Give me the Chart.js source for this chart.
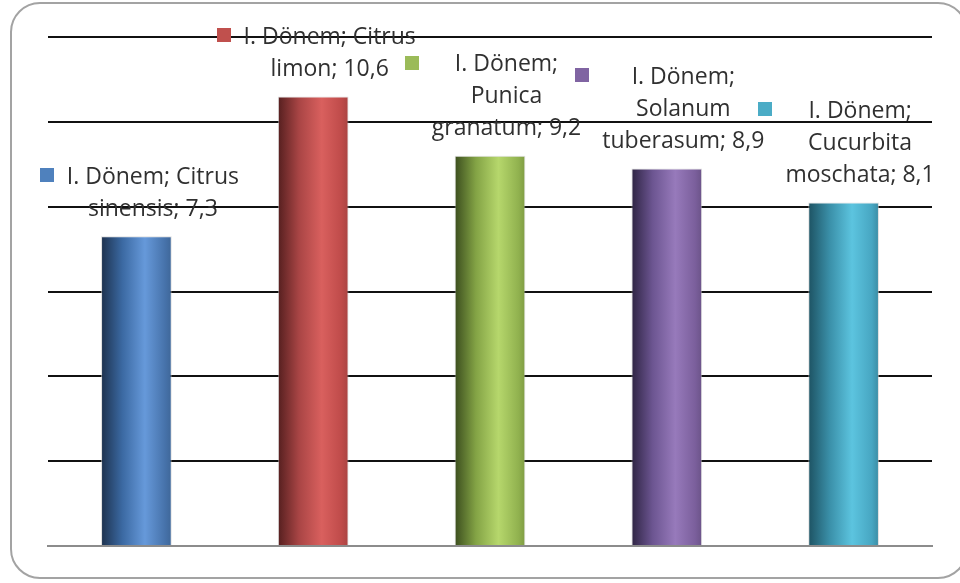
<!DOCTYPE html>
<html>
<head>
<meta charset="utf-8">
<script src="https://cdn.jsdelivr.net/npm/chart.js@4/dist/chart.umd.min.js"></script>
<style>
  html, body { margin: 0; padding: 0; background: #fff; overflow: hidden; }
  #wrap { position: relative; width: 960px; height: 583px; overflow: hidden; }
  #frame {
    position: absolute; left: 10px; top: 2px; width: 958px; height: 577px;
    border: 2px solid #a3a3a3; border-radius: 30px; box-sizing: border-box;
  }
  canvas { position: absolute; left: 0; top: 0; }
</style>
</head>
<body>
<div id="wrap">
  <div id="frame"></div>
  <canvas id="c" width="960" height="583"></canvas>
</div>
<script>
// Series and categories
const seriesName = 'I. Dönem';
const categories = ['Citrus sinensis', 'Citrus limon', 'Punica granatum', 'Solanum tuberasum', 'Cucurbita moschata'];
const values = [7.3, 10.6, 9.2, 8.9, 8.1];
// how many words of the category share the first label line with the series name
const firstLineWords = [1, 1, 0, 0, 0];
const yTicks = [0, 2, 4, 6, 8, 10, 12];

// cylinder-like shading per bar: dark edge, body, highlight, right edge
const barShades = [
  ['#1d314d', '#3b69a2', '#6699da', '#4773ab', '#3e6698'],
  ['#551f1f', '#a94545', '#d9605e', '#bf4b4a', '#a94342'],
  ['#3b4d1e', '#83a345', '#b6d76c', '#91b24f', '#7f9c43'],
  ['#2e2443', '#6c5591', '#977abb', '#7b5f9c', '#6b5388'],
  ['#1d5262', '#3a8fa8', '#5cc4df', '#47a6c2', '#3a8ba3']
];
const markerColors = ['#4f81bd', '#c0504d', '#9bbb59', '#8064a2', '#4bacc6'];

const fmt = v => String(v).replace('.', ',');

function labelLines(i) {
  const words = categories[i].split(' ');
  const n = firstLineWords[i];
  const first = seriesName + ';' + (n ? ' ' + words.slice(0, n).join(' ') : '');
  const rest = words.slice(n);
  const lines = [first];
  rest.forEach((w, k) => {
    lines.push(k === rest.length - 1 ? w + '; ' + fmt(values[i]) : w);
  });
  return lines;
}

function barFill(ctx) {
  const chart = ctx.chart;
  const i = ctx.dataIndex;
  const shades = barShades[i % barShades.length];
  const area = chart.chartArea;
  if (!area || !chart.scales.x) return shades[1];
  const xs = chart.scales.x;
  const cx = xs.getPixelForValue(i);
  const w = (area.width / categories.length) * 0.4;
  const g = chart.ctx.createLinearGradient(cx - w / 2, 0, cx + w / 2, 0);
  g.addColorStop(0, shades[0]);
  g.addColorStop(0.3, shades[1]);
  g.addColorStop(0.62, shades[2]);
  g.addColorStop(0.9, shades[3]);
  g.addColorStop(1, shades[4]);
  return g;
}

const labelPlugin = {
  id: 'barLabels',
  afterDatasetsDraw(chart) {
    const ctx = chart.ctx;
    const meta = chart.getDatasetMeta(0);
    const lh = 32, mk = 14, gap = 13;
    ctx.save();
    ctx.font = '23px "Open Sans"';
    ctx.textAlign = 'center';
    ctx.textBaseline = 'middle';
    meta.data.forEach((el, i) => {
      const lines = labelLines(i);
      const blockW = Math.max(...lines.map(t => ctx.measureText(t).width));
      const totalW = mk + gap + blockW;
      const left = el.x - totalW / 2 + 3;
      const blockLeft = left + mk + gap;
      const lastY = el.y - 27;
      const firstY = lastY - (lines.length - 1) * lh;
      ctx.fillStyle = markerColors[i];
      ctx.fillRect(Math.round(left), Math.round(firstY - mk / 2 - 2), mk, mk);
      ctx.fillStyle = '#303030';
      lines.forEach((t, k) => {
        ctx.fillText(t, blockLeft + blockW / 2, firstY + k * lh);
      });
    });
    ctx.restore();
  }
};

new Chart(document.getElementById('c'), {
  type: 'bar',
  data: {
    labels: categories,
    datasets: [{
      label: seriesName,
      data: values,
      backgroundColor: barFill,
      borderColor: 'rgba(200,200,200,0.6)',
      borderWidth: 1,
      barPercentage: 0.4,
      categoryPercentage: 1
    }]
  },
  options: {
    responsive: false,
    devicePixelRatio: 1,
    animation: false,
    layout: { padding: { left: 48, right: 28, top: 37, bottom: 37 } },
    plugins: { legend: { display: false }, tooltip: { enabled: false } },
    scales: {
      x: {
        ticks: { display: false },
        grid: { display: false, drawTicks: false },
        border: { display: true, color: '#8c8c8c', width: 2 }
      },
      y: {
        min: yTicks[0],
        max: yTicks[yTicks.length - 1],
        afterBuildTicks(scale) { scale.ticks = yTicks.map(v => ({ value: v })); },
        ticks: { display: false },
        grid: {
          drawTicks: false,
          lineWidth: 2,
          color: c => (c.tick && c.tick.value === 0) ? '#8c8c8c' : '#111111'
        },
        border: { display: false }
      }
    }
  },
  plugins: [labelPlugin]
});
</script>
</body>
</html>
